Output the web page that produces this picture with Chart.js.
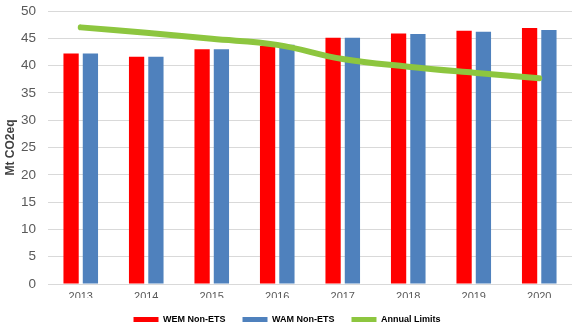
<!DOCTYPE html>
<html>
<head>
<meta charset="utf-8">
<script src="https://cdn.jsdelivr.net/npm/chart.js@4.4.1/dist/chart.umd.min.js"></script>
<style>
  html, body { margin: 0; padding: 0; background: #fff; }
  #wrap { width: 579px; height: 329px; }
</style>
</head>
<body>
<div id="wrap"><canvas id="chart" width="579" height="329"></canvas></div>
<script>
// chart data
const years = ['2013', '2014', '2015', '2016', '2017', '2018', '2019', '2020'];
const wemNonEts = [42.2, 41.6, 43.0, 43.6, 45.1, 45.9, 46.4, 46.9];
const wamNonEts = [42.2, 41.6, 43.0, 43.8, 45.1, 45.8, 46.2, 46.5];
const annualLimits = [47.0, 46.0, 44.9, 43.8, 41.2, 39.8, 38.7, 37.7];
const yTicks = [0, 5, 10, 15, 20, 25, 30, 35, 40, 45, 50];

const fontFamily = '"Liberation Sans", Arial, sans-serif';

// legend keeps its wide item spacing but takes less height
const shortLegend = {
  id: 'shortLegend',
  beforeInit(chart) {
    let fit = chart.legend.fit;
    chart.legend.fit = function () {
      fit.call(this);
      this.height -= 12;
    };
  }
};

let ctx = document.getElementById('chart').getContext('2d');
new Chart(ctx, {
  type: 'bar',
  data: {
    labels: years,
    datasets: [
      { label: 'WEM Non-ETS', data: wemNonEts, backgroundColor: '#FF0000', order: 1,
        categoryPercentage: 0.59, barPercentage: 0.79 },
      { label: 'WAM Non-ETS', data: wamNonEts, backgroundColor: '#4F81BD', order: 2,
        categoryPercentage: 0.59, barPercentage: 0.79 },
      { label: 'Annual Limits', type: 'line', data: annualLimits, order: 0,
        borderColor: '#8DC63F', backgroundColor: '#8DC63F', borderWidth: 6,
        borderCapStyle: 'round', tension: 0.4, pointRadius: 0, fill: false }
    ]
  },
  plugins: [shortLegend],
  options: {
    responsive: false,
    animation: false,
    layout: { padding: { top: 11, right: 7, left: 2, bottom: 7 } },
    plugins: {
      tooltip: { enabled: false },
      legend: {
        position: 'bottom',
        labels: {
          boxWidth: 25, boxHeight: 5, padding: 17,
          color: '#404040',
          font: { family: fontFamily, size: 9, weight: 'bold' },
          sort: (a, b) => a.datasetIndex - b.datasetIndex,
          generateLabels: chart => chart.data.datasets.map((ds, i) => ({
            text: ds.label, fillStyle: ds.backgroundColor, strokeStyle: ds.backgroundColor,
            lineWidth: 0, hidden: false, datasetIndex: i
          }))
        }
      }
    },
    scales: {
      x: {
        grid: { display: false, drawTicks: false },
        border: { display: false },
        ticks: { color: '#595959', font: { family: fontFamily, size: 11 }, padding: 6 },
        afterFit: scale => { scale.height = 14; }
      },
      y: {
        min: 0, max: 50,
        afterBuildTicks: axis => { axis.ticks = yTicks.map(v => ({ value: v })); },
        grid: { color: '#D9D9D9', lineWidth: 1, drawTicks: false },
        border: { display: false },
        ticks: { color: '#595959', font: { family: fontFamily, size: 13.5 }, padding: 12 },
        title: { display: true, text: 'Mt CO2eq', color: '#404040',
          font: { family: fontFamily, size: 12, weight: 'bold' }, padding: { top: 1, bottom: 0 } },
        afterFit: scale => {
          scale.width = 46;
          scale.paddingTop = 0;
          scale.paddingBottom = 0;
        }
      }
    }
  }
});
</script>
</body>
</html>
